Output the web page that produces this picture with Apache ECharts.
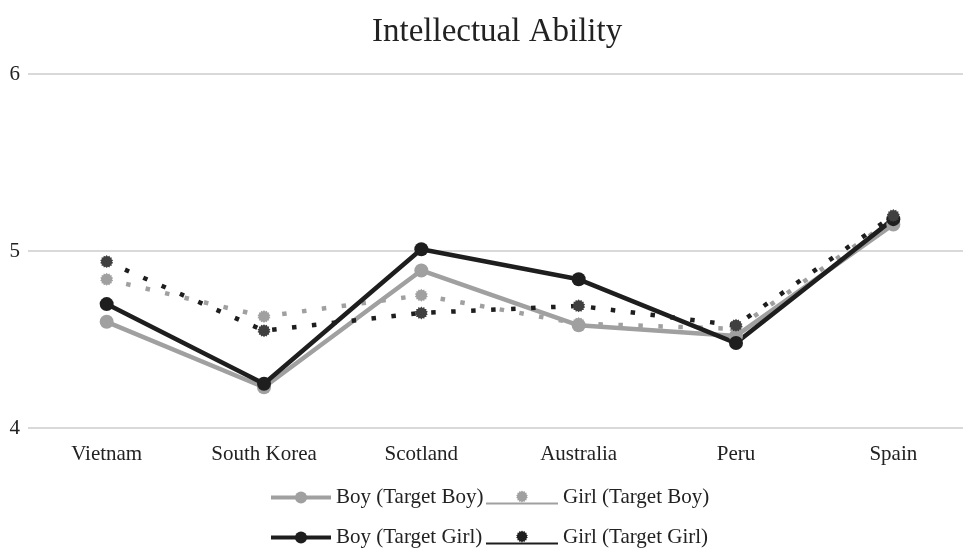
<!DOCTYPE html>
<html>
<head>
<meta charset="utf-8">
<script src="https://cdn.jsdelivr.net/npm/echarts@6/dist/echarts.min.js"></script>
<style>
  html, body { margin: 0; padding: 0; background: #fff; }
  #chart { width: 963px; height: 548px; }
</style>
</head>
<body>
<div id="chart"></div>
<script>
// Countries along the category axis
const countries = ['Vietnam', 'South Korea', 'Scotland', 'Australia', 'Peru', 'Spain'];

// Mean ratings of intellectual ability per group
const boyTargetBoy   = [4.60, 4.23, 4.89, 4.58, 4.52, 5.15];
const girlTargetBoy  = [4.84, 4.63, 4.75, 4.59, 4.56, 5.18];
const boyTargetGirl  = [4.70, 4.25, 5.01, 4.84, 4.48, 5.18];
const girlTargetGirl = [4.94, 4.55, 4.65, 4.69, 4.58, 5.20];

const seriesNames = ['Boy (Target Boy)', 'Girl (Target Boy)', 'Boy (Target Girl)', 'Girl (Target Girl)'];
const yTicks = [4, 5, 6];

const FONT = '"Liberation Serif", "DejaVu Serif", serif';
const LIGHT = '#a0a0a0';
const DARK = '#1e1e1e';
const STAR_DARK = '#404040';

// Jagged round marker (many-pointed star) used for the dotted series
function starPath(points, inner) {
  let d = '';
  for (let i = 0; i < points * 2; i++) {
    const r = i % 2 === 0 ? 1 : inner;
    const a = (Math.PI * i) / points - Math.PI / 2;
    const x = (r * Math.cos(a) * 50 + 50).toFixed(2);
    const y = (r * Math.sin(a) * 50 + 50).toFixed(2);
    d += (i === 0 ? 'M' : 'L') + x + ' ' + y + ' ';
  }
  return d + 'Z';
}
const STAR = 'path://' + starPath(14, 0.8);

// Legend icon for the dotted series: star above a baseline rule (72 x 14 box)
function legendStarIcon() {
  let d = '';
  const pts = 14, inner = 0.8, cx = 36, cy = 6, R = 6;
  for (let i = 0; i < pts * 2; i++) {
    const r = i % 2 === 0 ? R : R * inner;
    const a = (Math.PI * i) / pts - Math.PI / 2;
    d += (i === 0 ? 'M' : 'L') + (cx + r * Math.cos(a)).toFixed(2) + ' ' + (cy + r * Math.sin(a)).toFixed(2) + ' ';
  }
  d += 'Z M0 12 L72 12 L72 14 L0 14 Z';
  return 'path://' + d;
}

const solidSeries = (name, data, color) => ({
  name, type: 'line', data,
  symbol: 'circle', symbolSize: 14,
  itemStyle: { color },
  lineStyle: { color, width: 4.5 },
  emphasis: { disabled: true },
  animation: false
});

const dottedSeries = (name, data, lineColor, markerColor) => ({
  name, type: 'line', data,
  symbol: STAR, symbolSize: 13,
  itemStyle: { color: markerColor },
  lineStyle: { color: lineColor, width: 4.5, type: [4.5, 15.5], cap: 'butt' },
  emphasis: { disabled: true },
  animation: false
});

const legendText = { fontFamily: FONT, fontSize: 21, color: '#222' };

function legendAt(name, left, top, opts) {
  return Object.assign({
    show: true, left, top, orient: 'horizontal',
    data: [name], selectedMode: false,
    textStyle: legendText, itemGap: 0, padding: 0
  }, opts);
}

const chart = echarts.init(document.getElementById('chart'), null, { renderer: 'canvas' });
chart.setOption({
  backgroundColor: '#ffffff',
  animation: false,
  title: {
    text: 'Intellectual Ability',
    left: 367, top: 11,
    textStyle: { fontFamily: FONT, fontSize: 33, fontWeight: 'normal', color: '#222' }
  },
  grid: { left: 28, top: 74, width: 944, height: 354, containLabel: false, outerBoundsMode: 'none' },
  xAxis: {
    type: 'category', data: countries, boundaryGap: true,
    axisLine: { show: false }, axisTick: { show: false },
    axisLabel: { fontFamily: FONT, fontSize: 21, color: '#222', margin: 16 }
  },
  yAxis: {
    type: 'value', min: yTicks[0], max: yTicks[yTicks.length - 1], interval: 1,
    axisLine: { show: false }, axisTick: { show: false },
    axisLabel: { fontFamily: FONT, fontSize: 21, color: '#222', margin: 8 },
    splitLine: { lineStyle: { color: '#d9d9d9', width: 2 } }
  },
  legend: [
    legendAt(seriesNames[0], 269, 487, { itemWidth: 60, itemHeight: 15,
      data: [{ name: seriesNames[0], lineStyle: { width: 4 } }] }),
    legendAt(seriesNames[1], 486, 487, { itemWidth: 72, itemHeight: 14,
      data: [{ name: seriesNames[1], icon: legendStarIcon(), itemStyle: { color: LIGHT } }] }),
    legendAt(seriesNames[2], 269, 527, { itemWidth: 60, itemHeight: 15,
      data: [{ name: seriesNames[2], lineStyle: { width: 4 } }] }),
    legendAt(seriesNames[3], 486, 527, { itemWidth: 72, itemHeight: 14,
      data: [{ name: seriesNames[3], icon: legendStarIcon(), itemStyle: { color: DARK } }] })
  ],
  series: [
    solidSeries(seriesNames[0], boyTargetBoy, LIGHT),
    dottedSeries(seriesNames[1], girlTargetBoy, LIGHT, LIGHT),
    solidSeries(seriesNames[2], boyTargetGirl, DARK),
    dottedSeries(seriesNames[3], girlTargetGirl, DARK, STAR_DARK)
  ]
});
</script>
</body>
</html>
